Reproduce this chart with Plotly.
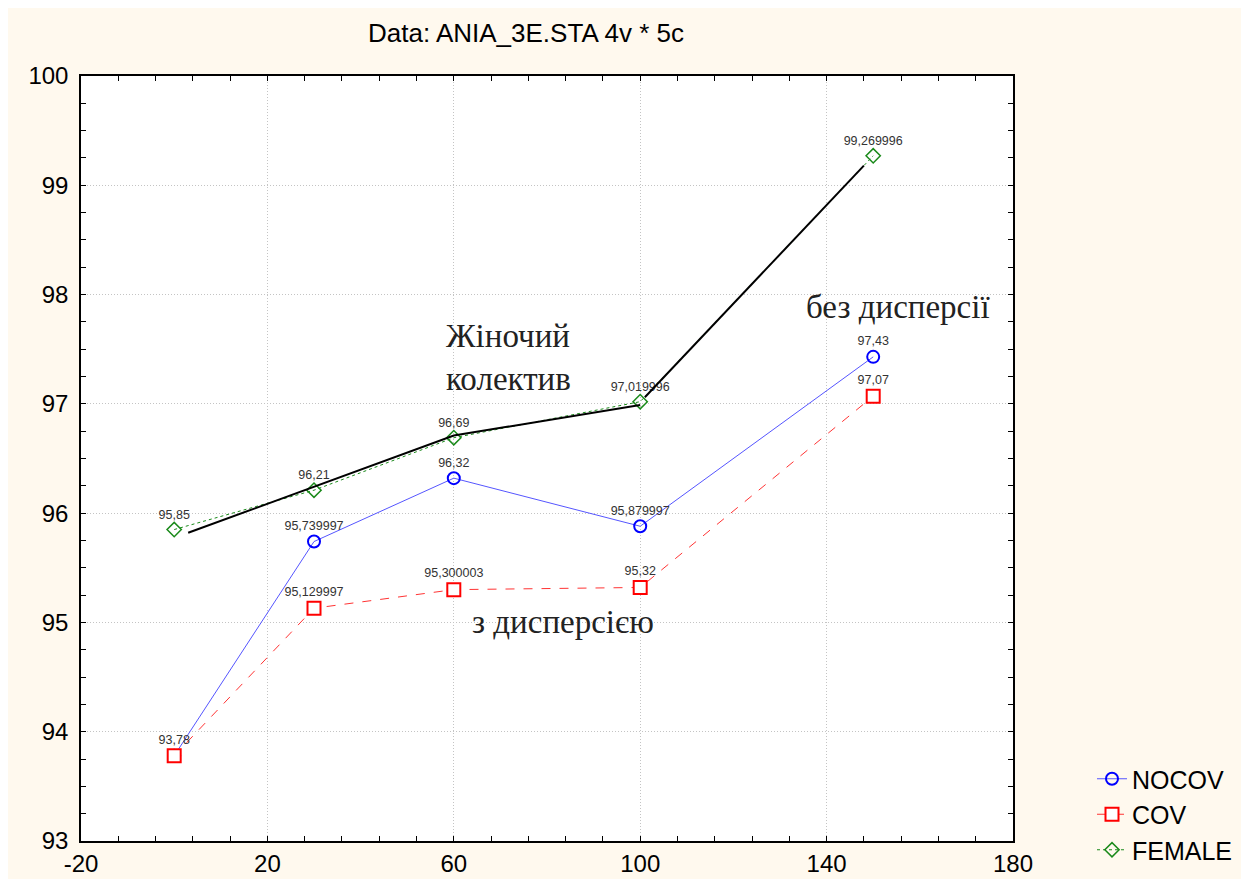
import plotly.graph_objects as go

# values
x_vals = [0, 30, 60, 100, 150]
nocov = [93.78, 95.739997, 96.32, 95.879997, 97.43]
cov = [93.78, 95.129997, 95.300003, 95.32, 97.07]
female = [95.85, 96.21, 96.69, 97.019996, 99.269996]

# hand-drawn black line over FEMALE
guide_x = [3, 60, 100, None, 101, 148]
guide_y = [95.82, 96.71, 96.99, None, 97.06, 99.18]

x_ticks = [-20, 20, 60, 100, 140, 180]
x_tick_text = ["-20", "20", "60", "100", "140", "180"]
y_ticks = [93, 94, 95, 96, 97, 98, 99, 100]


def labels(vals):
    return ["{}".format(v).replace(".", ",") for v in vals]


W, H = 1249, 879
bg = "#FFF9EE"
label_font = dict(family="Arial", size=12.5, color="#333333")

fig = go.Figure()
fig.add_trace(go.Scatter(
    x=x_vals, y=nocov, name="NOCOV", mode="lines+markers+text",
    line=dict(color="#5555ff", width=1),
    marker=dict(symbol="circle-open", size=12, color="blue", line=dict(width=2)),
    text=[""] + labels(nocov[1:]),
    textposition="top center", textfont=label_font,
))
fig.add_trace(go.Scatter(
    x=x_vals, y=cov, name="COV", mode="lines+markers+text",
    line=dict(color="#ff3333", width=1, dash="dash"),
    marker=dict(symbol="square", size=13, color="white", line=dict(width=2, color="red")),
    text=labels(cov), textposition="top center", textfont=label_font,
))
fig.add_trace(go.Scatter(
    x=x_vals, y=female, name="FEMALE", mode="lines+markers+text",
    line=dict(color="#1a8a1a", width=1, dash="dot"),
    marker=dict(symbol="diamond-open", size=11, color="#1a8a1a", line=dict(width=1.5)),
    text=labels(female), textposition="top center", textfont=label_font,
))
fig.add_trace(go.Scatter(
    x=guide_x, y=guide_y, mode="lines", showlegend=False,
    line=dict(color="black", width=2), hoverinfo="skip",
))

serif = dict(family="Liberation Serif", size=33, color="#222222")
fig.add_annotation(x=58, y=97.42, text="Жіночий<br>колектив", showarrow=False,
                   xanchor="left", align="left", font=serif)
fig.add_annotation(x=155.3, y=97.89, text="без дисперсії", showarrow=False, font=serif)
fig.add_annotation(x=83.4, y=95.0, text="з дисперсією", showarrow=False, font=serif)

axis_common = dict(
    showline=True, linecolor="black", linewidth=1.5, mirror="allticks",
    ticks="inside", ticklen=5, tickcolor="black", tickwidth=1,
    showgrid=True, gridcolor="#c4c4c4", griddash="1px,2px", gridwidth=1,
    zeroline=False, automargin=False,
    tickfont=dict(family="Arial", size=24, color="black"),
)

# page body adds 8px offset, so positions are reference pixels minus 8
fig.update_layout(
    width=W, height=H,
    paper_bgcolor=bg, plot_bgcolor="white",
    margin=dict(l=0, r=0, t=0, b=0),
    title=dict(text="Data: ANIA_3E.STA 4v * 5c", x=518 / W, xanchor="center",
               y=1 - 25 / H, yanchor="middle",
               font=dict(family="Arial", size=26, color="black")),
    xaxis=dict(axis_common, range=[-20, 180], tickvals=x_ticks, ticktext=x_tick_text,
               domain=[73 / W, 1005 / W],
               minor=dict(tick0=-20, dtick=8, ticks="inside", ticklen=5,
                          tickcolor="black", showgrid=False)),
    yaxis=dict(axis_common, range=[93, 100], tickvals=y_ticks,
               domain=[46 / H, 811 / H], ticklabelstandoff=6,
               minor=dict(tick0=93, dtick=0.25, ticks="inside", ticklen=5,
                          tickcolor="black", showgrid=False)),
    showlegend=True,
    legend=dict(x=1084 / W, y=131 / H, xanchor="left", yanchor="top",
                bgcolor="rgba(0,0,0,0)",
                font=dict(family="Arial", size=25, color="black")),
)

fig.write_html("out.html")
